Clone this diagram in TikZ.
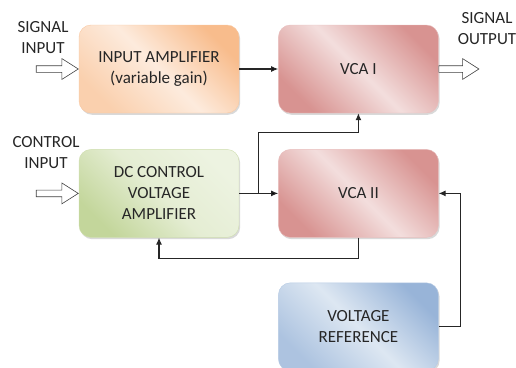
\documentclass[tikz,border=0pt]{standalone}
\usepackage{fontspec}
\setmainfont{Carlito}
\usetikzlibrary{positioning,shapes.arrows,shadows,arrows.meta}

\definecolor{orgdark}{HTML}{F8BC8C}
\definecolor{orglow}{HTML}{FAD0AE}
\definecolor{orglight}{HTML}{FDEBDD}
\definecolor{pinkdark}{HTML}{D89391}
\definecolor{pinklight}{HTML}{F3DEDD}
\definecolor{grndark}{HTML}{C3D69B}
\definecolor{grnlight}{HTML}{EDF3E1}
\definecolor{bluedark}{HTML}{98B4D8}
\definecolor{bluelight}{HTML}{DDE7F2}

\tikzset{
  block/.style={shape=rectangle, rounded corners=12pt, minimum width=160pt,
    minimum height=88pt, align=center, text=black!85,
    font=\fontsize{17}{21}\selectfont,
    drop shadow={shadow xshift=1.2pt, shadow yshift=-1.8pt, opacity=.3}},
  orangebox/.style={block, draw=orgdark!80!white, left color=orgdark,
    right color=orglow, middle color=orglight, shading angle=-45},
  pinkbox/.style={block, draw=pinkdark!60!white, left color=pinkdark,
    right color=pinkdark, middle color=pinklight, shading angle=-45},
  greenbox/.style={block, draw=grndark!80!white, left color=grnlight,
    right color=grndark, middle color=grnlight!80!grndark, shading angle=-45},
  bluebox/.style={block, draw=bluedark!70!white, left color=bluedark,
    right color=bluedark!80!white, middle color=bluelight, shading angle=-45},
  link/.style={line width=1.1pt, draw=black!85, -{Latex[length=7pt,width=6pt]}},
  hollow/.style={shape=single arrow, draw=black!75, fill=white, line width=.6pt,
    inner sep=3pt, minimum width=11pt, single arrow head indent=0pt,
    single arrow tip angle=65},
  lbl/.style={align=center, inner sep=0pt, text=black!85,
    font=\fontsize{17}{21}\selectfont}
}

\begin{document}
\begin{tikzpicture}
  \useasboundingbox (0pt,0pt) rectangle (516pt,-367pt);

  \node[orangebox] (ia) at (159pt,-69pt) {INPUT AMPLIFIER\\(variable gain)};
  \node[pinkbox] (vca1) [right = 39pt of ia] {VCA I};
  \node[greenbox] (dc) [below = 36pt of ia] {DC CONTROL\\VOLTAGE\\AMPLIFIER};
  \node[pinkbox] (vca2) [below = 36pt of vca1] {VCA II};
  \node[bluebox] (vr) [below = 45pt of vca2] {VOLTAGE\\REFERENCE};

  % hollow input / output arrows
  \node[hollow, minimum height=42pt, anchor=tip] (sigin) at (ia.west) {};
  \node[hollow, minimum height=42pt, anchor=tip] (ctlin) at (dc.west) {};
  \node[hollow, minimum height=40pt, anchor=tail] (sigout) at (vca1.east) {};

  \node[lbl] (sigintxt) at (43pt,-38pt) {SIGNAL\\INPUT};
  \node[lbl] (ctlintxt) at (46pt,-153pt) {CONTROL\\INPUT};
  \node[lbl] (sigouttxt) at (487pt,-29pt) {SIGNAL\\OUTPUT};

  \coordinate[right = 19pt of dc.east] (split);

  \path [link] (ia) edge (vca1);
  \path [link] (dc) edge (vca2);
  \draw [link] (split) -- ++(0,61pt) -| (vca1.south);
  \draw [link] (vca2.south) -- ++(0,-21pt) -| (dc.south);
  \draw [link] (vr.east) -- ++(22pt,0) |- (vca2.east);
\end{tikzpicture}
\end{document}
